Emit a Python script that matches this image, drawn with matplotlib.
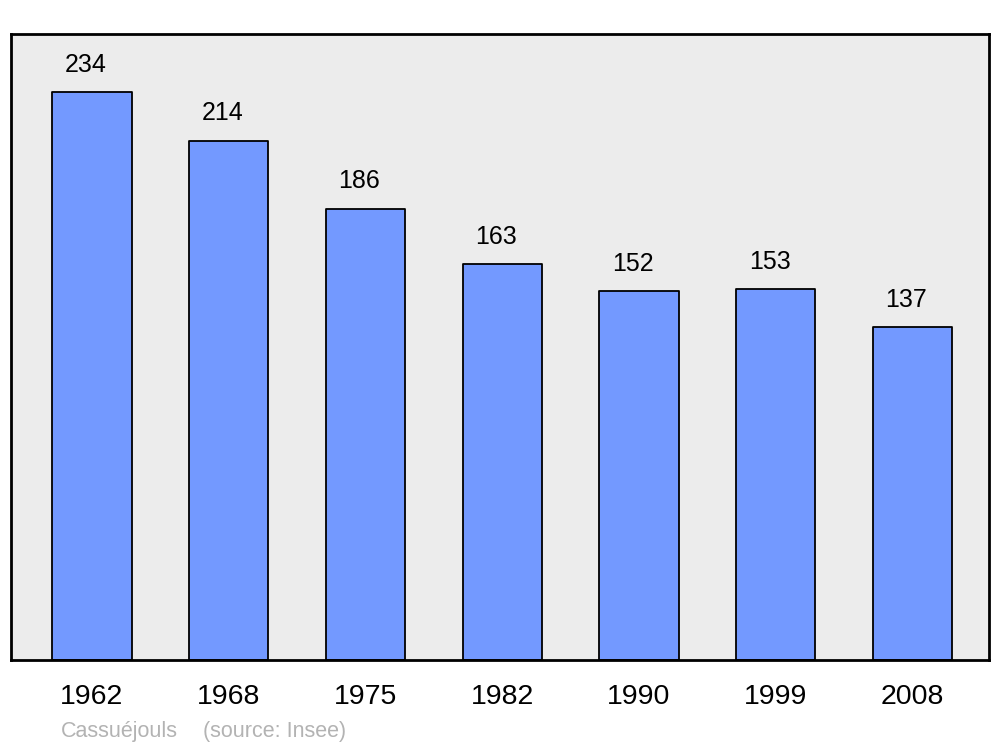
import matplotlib
matplotlib.use("Agg")
import matplotlib.pyplot as plt

years = ["1962", "1968", "1975", "1982", "1990", "1999", "2008"]
population = [234, 214, 186, 163, 152, 153, 137]
commune = "Cassuéjouls"
source = "(source: Insee)"

plt.rcParams['font.family'] = ['Liberation Sans', 'DejaVu Sans']

fig = plt.figure(figsize=(10, 7.47), dpi=100)
ax = fig.add_axes([0.011, 0.1165, 0.978, 0.838])
ax.set_facecolor('#ececec')

x = list(range(len(years)))
bars = ax.bar(x, population, width=0.58, color='#7399ff', edgecolor='black',
              linewidth=1.3, zorder=2)
for b in bars:
    b.set_joinstyle('round')

ax.set_xlim(-0.592, 6.559)
ax.set_ylim(0, 257.9)

for xi, v in zip(x, population):
    ax.annotate(str(v), (xi, v), xytext=(-4.5, 19.5), textcoords='offset points',
                ha='center', va='center', fontsize=18, color='black')

ax.set_xticks(x)
ax.set_xticklabels(years, fontsize=20.5)
ax.tick_params(axis='x', length=0, pad=17.5)
ax.set_yticks([])
for s in ax.spines.values():
    s.set_linewidth(2)
    s.set_joinstyle('round')

fig.text(0.061, 0.0134, commune, fontsize=15.5, color='#b3b3b3', ha='left', va='baseline')
fig.text(0.203, 0.0134, source, fontsize=15.5, color='#b3b3b3', ha='left', va='baseline')

fig.savefig('out.png', dpi=100)
